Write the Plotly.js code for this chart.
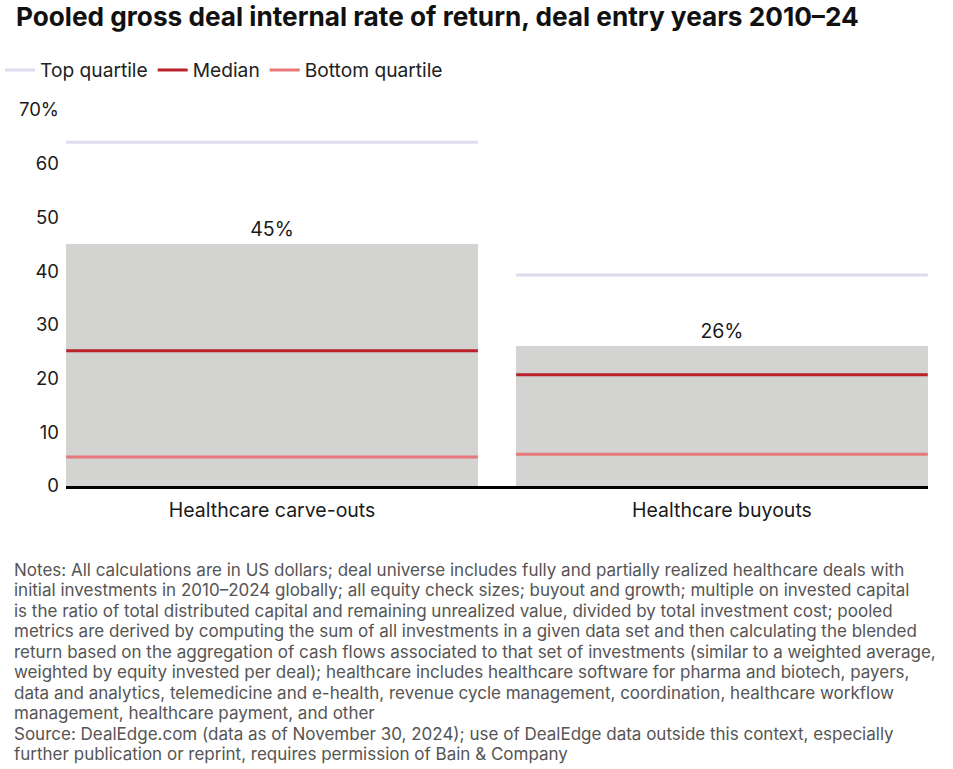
<!DOCTYPE html>
<html>
<head>
<meta charset="utf-8">
<script src="https://cdn.plot.ly/plotly-3.0.1.min.js"></script>
<style>html,body{margin:0;padding:0;background:#fff;}#chart{width:953px;height:769px;}</style>
</head>
<body>
<div id="chart"></div>
<script>
const categories = ["Healthcare carve-outs", "Healthcare buyouts"];
const pooledIRR = [45, 26];
const topQuartile = [64, 39.3];
const median = [25.2, 20.7];
const bottomQuartile = [5.4, 5.9];
const yTickVals = [0, 10, 20, 30, 40, 50, 60, 70];
const yTickText = ["0", "10", "20", "30", "40", "50", "60", "70%"];
const notesLines = [
  "Notes: All calculations are in US dollars; deal universe includes fully and partially realized healthcare deals with",
  "initial investments in 2010–2024 globally; all equity check sizes; buyout and growth; multiple on invested capital",
  "is the ratio of total distributed capital and remaining unrealized value, divided by total investment cost; pooled",
  "metrics are derived by computing the sum of all investments in a given data set and then calculating the blended",
  "return based on the aggregation of cash flows associated to that set of investments (similar to a weighted average,",
  "weighted by equity invested per deal); healthcare includes healthcare software for pharma and biotech, payers,",
  "data and analytics, telemedicine and e-health, revenue cycle management, coordination, healthcare workflow",
  "management, healthcare payment, and other",
  "Source: DealEdge.com (data as of November 30, 2024); use of DealEdge data outside this context, especially",
  "further publication or reprint, requires permission of Bain & Company"
];

const BAR_W = 0.915;
const xIdx = categories.map((c, i) => i);

function segs(vals) {
  const xs = [], ys = [];
  vals.forEach((v, i) => {
    xs.push(i - BAR_W / 2, i + BAR_W / 2, null);
    ys.push(v, v, null);
  });
  return {x: xs, y: ys};
}

const FONT = "Inter, 'Open Sans', sans-serif";
const traces = [
  {
    type: 'bar', x: xIdx, y: pooledIRR, width: BAR_W,
    marker: {color: '#d3d3d2'}, showlegend: false, hoverinfo: 'skip',
    text: pooledIRR.map(v => v + '%'), textposition: 'outside',
    textfont: {size: 19.5, color: '#1a1a1a', family: FONT}, cliponaxis: false
  },
  Object.assign({type: 'scatter', mode: 'lines', name: 'Top quartile',
    line: {color: '#dcdcee', width: 3}}, segs(topQuartile)),
  Object.assign({type: 'scatter', mode: 'lines', name: 'Median',
    line: {color: '#b8222b', width: 3}}, segs(median)),
  Object.assign({type: 'scatter', mode: 'lines', name: 'Bottom quartile',
    line: {color: '#e6777a', width: 3}}, segs(bottomQuartile))
];

const W = 953, H = 769;
const PL = 66, PT = 110, PB = 486, PW = 862, PH = PB - PT;
const px2x = p => (p - PL) / PW;
const px2y = p => (PB - p) / PH;

const notesAnn = notesLines.map((t, i) => ({
  text: t, xref: 'paper', yref: 'paper',
  x: px2x(12), xanchor: 'left', y: px2y(570 + i * 20.45), yanchor: 'middle',
  align: 'left', showarrow: false,
  font: {size: 17, color: '#555', family: FONT}
}));

const layout = {
  width: W, height: H,
  paper_bgcolor: '#ffffff', plot_bgcolor: '#ffffff',
  font: {family: FONT, color: '#1a1a1a', size: 18},
  margin: {l: PL, r: W - PL - PW, t: PT, b: H - PB},
  title: {
    text: '<b>Pooled gross deal internal rate of return, deal entry years 2010–24</b>',
    x: 16 / W, xanchor: 'left', xref: 'container',
    y: 1 - 8 / H, yanchor: 'top', yref: 'container',
    font: {size: 26.2, color: '#111', family: FONT}
  },
  showlegend: true,
  legend: {
    orientation: 'h', xref: 'container', yref: 'container',
    x: 0, xanchor: 'left',
    y: 1 - 70 / H, yanchor: 'middle',
    font: {size: 19.2, color: '#222'}, itemwidth: 30, tracegroupgap: 0,
    bgcolor: 'rgba(0,0,0,0)'
  },
  xaxis: {
    range: [-0.458, 1.458], tickvals: xIdx, ticktext: categories,
    showgrid: false, zeroline: false, showline: true, linecolor: '#000', linewidth: 2.5,
    ticks: '', tickfont: {size: 19.5, color: '#1a1a1a'}, ticklabelstandoff: 5, fixedrange: true
  },
  yaxis: {
    range: [0, 70], tickvals: yTickVals, ticktext: yTickText,
    showgrid: false, zeroline: false, showline: false, ticks: '',
    tickfont: {size: 18.5, color: '#1a1a1a'}, ticklabelstandoff: 6, fixedrange: true
  },
  annotations: notesAnn,
  bargap: 0
};

Plotly.newPlot('chart', traces, layout, {displayModeBar: false, staticPlot: true});
</script>
</body>
</html>
